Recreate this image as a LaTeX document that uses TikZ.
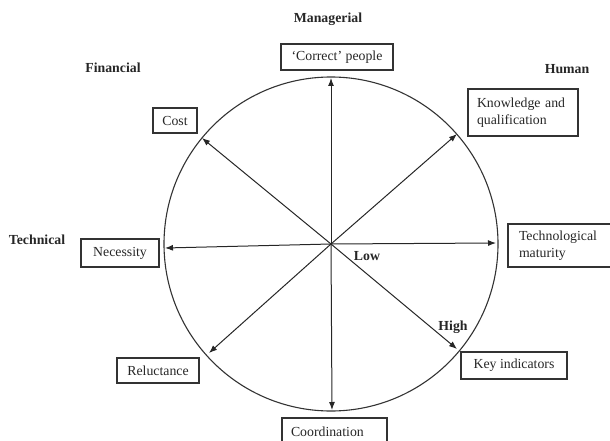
\documentclass[tikz,border=0pt]{standalone}
\usepackage{fontspec}
\setmainfont{Liberation Serif}
\usetikzlibrary{arrows.meta}
\begin{document}
\begin{tikzpicture}[x=1pt, y=-1pt,
    txt/.style={font=\fontsize{13.8}{17}\selectfont, text=black!85},
    head/.style={txt, font=\fontsize{13.8}{17}\selectfont\bfseries},
    box/.style={txt, draw=black!80, line width=1.1pt, inner xsep=9pt, inner ysep=0pt},
    spoke/.style={draw=black!85, line width=1pt, -{Latex[length=8pt, width=6pt]}}]
    \useasboundingbox (0,0) rectangle (610,441);
    % WHEEL
    \coordinate (o) at (331,244);
    \draw[black!80, line width=1.1pt] (o) circle[radius=167pt];
    \coordinate (eN) at (331,78);
    \coordinate (eNW) at (202,138);
    \coordinate (eNE) at (457,134);
    \coordinate (eW) at (165,248);
    \coordinate (eE) at (496,243);
    \coordinate (eSW) at (209,353);
    \coordinate (eSE) at (457,349);
    \coordinate (eS) at (332,410);
    \foreach \e in {eN,eNW,eNE,eW,eE,eSW,eSE,eS} {
        \draw[spoke] (o) -- (\e);
    }
    % DIMENSIONS
    \node[head] (managerial) at (328,19) {Managerial};
    \node[head] (financial) at (113,68) {Financial};
    \node[head] (human) at (567,69) {Human};
    \node[head] (technical) at (37,240) {Technical};
    \node[head] (low) at (367,256) {Low};
    \node[head] (high) at (453,327) {High};
    % FACTORS
    \node[box, minimum width=112pt, minimum height=26pt] (people) at (337,57) {‘Correct’ people};
    \node[box, minimum width=44pt, minimum height=25pt, inner xsep=0pt] (cost) at (175,120.5) {Cost};
    \node[box, minimum height=47pt, text width=92pt, align=left] (knowledge) at (523,112.5) {Knowledge and\\qualification};
    \node[box, minimum width=78pt, minimum height=28pt] (necessity) at (120,253) {Necessity};
    \node[box, minimum height=43pt, text width=92pt, align=left, inner xsep=11pt] (maturity) at (565,245.5) {Technological\\maturity};
    \node[box, minimum width=82pt, minimum height=25pt] (reluctance) at (158,370.5) {Reluctance};
    \node[box, minimum height=27pt, text width=87pt, align=left] (coordination) at (334.5,431.5) {Coordination};
    \node[box, minimum width=106pt, minimum height=27pt] (indicators) at (514,365.5) {Key indicators};
\end{tikzpicture}
\end{document}
